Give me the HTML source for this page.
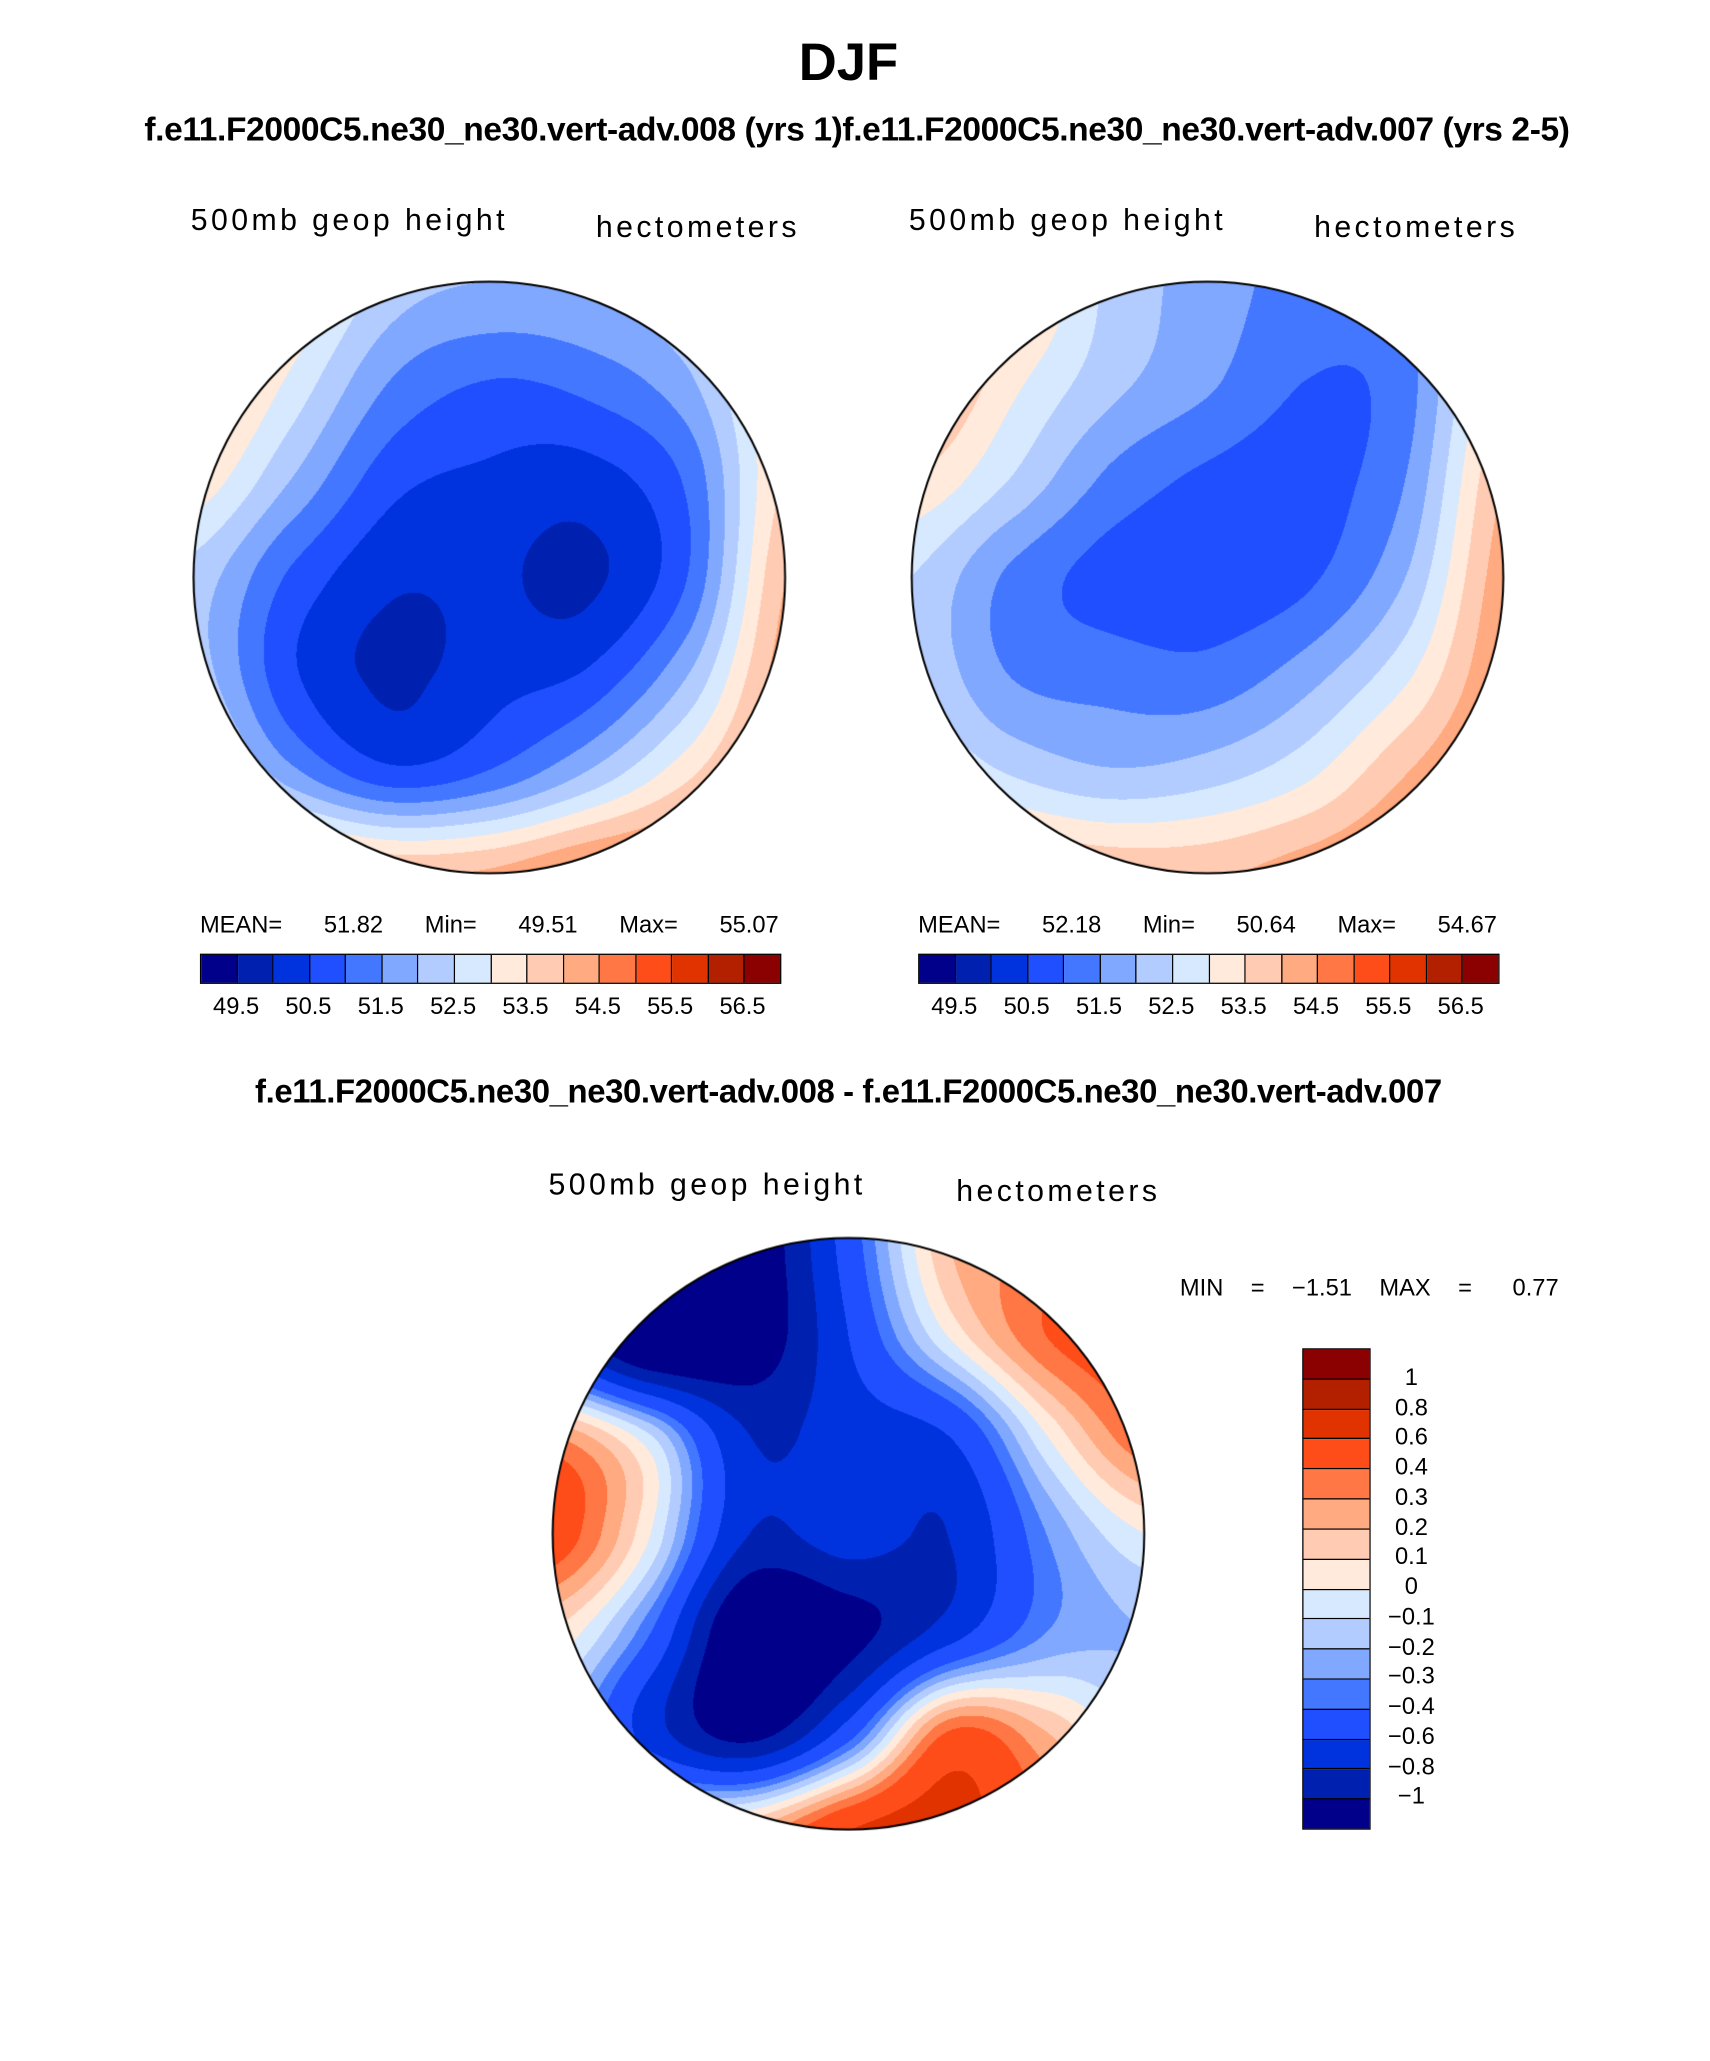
<!DOCTYPE html>
<html><head><meta charset="utf-8">
<style>
html,body{margin:0;padding:0;background:#fff;}
body{width:1710px;height:2061px;overflow:hidden;position:relative;font-family:"Liberation Sans",sans-serif;}
#wrap{position:absolute;left:0;top:0;width:1300px;height:1567px;transform:scale(1.315385);transform-origin:0 0;}
.t{position:absolute;white-space:nowrap;color:#000;}
.lbl{font-size:23px;letter-spacing:2.6px;font-weight:normal;}
.stat{font-size:18px;}
canvas{position:absolute;}
.hbar{position:absolute;display:flex;border:1.5px solid #000;height:21px;}
.hbar div{flex:1;border-right:1px solid #000;}
.hbar div:last-child{border-right:none;}
.vbar{position:absolute;display:flex;flex-direction:column;border:1.5px solid #000;width:50px;}
.vbar div{flex:1;border-bottom:1px solid #000;}
.vbar div:last-child{border-bottom:none;}
</style></head><body>
<div id="wrap">
<div class="t" style="left:0;width:1290px;text-align:center;top:26px;font-size:40px;font-weight:bold;">DJF</div>
<div class="t" style="left:0;width:1303px;text-align:center;top:85px;font-size:25.5px;font-weight:bold;letter-spacing:-0.3px;">f.e11.F2000C5.ne30_ne30.vert-adv.008 (yrs 1)f.e11.F2000C5.ne30_ne30.vert-adv.007 (yrs 2-5)</div>

<div class="t lbl" style="left:145px;top:154px;">500mb geop height</div>
<div class="t lbl" style="left:453px;top:159px;">hectometers</div>
<div class="t lbl" style="left:691px;top:154px;">500mb geop height</div>
<div class="t lbl" style="left:999px;top:159px;">hectometers</div>

<canvas id="m1" style="left:146px;top:213px;width:452px;height:452px;" width="595" height="595"></canvas>
<canvas id="m2" style="left:692px;top:213px;width:452px;height:452px;" width="595" height="595"></canvas>

<div class="t stat" style="left:152px;top:693px;width:440px;display:flex;justify-content:space-between;"><span>MEAN=</span><span>51.82</span><span>Min=</span><span>49.51</span><span>Max=</span><span>55.07</span></div>
<div class="t stat" style="left:698px;top:693px;width:440px;display:flex;justify-content:space-between;"><span>MEAN=</span><span>52.18</span><span>Min=</span><span>50.64</span><span>Max=</span><span>54.67</span></div>
<div class="hbar" id="cb1" style="left:152px;top:725px;width:440px;"></div>
<div class="hbar" id="cb2" style="left:698px;top:725px;width:440px;"></div>

<div class="t" style="left:0;width:1290px;text-align:center;top:816px;font-size:25px;font-weight:bold;letter-spacing:-0.3px;">f.e11.F2000C5.ne30_ne30.vert-adv.008 - f.e11.F2000C5.ne30_ne30.vert-adv.007</div>
<div class="t lbl" style="left:417px;top:887px;">500mb geop height</div>
<div class="t lbl" style="left:727px;top:892px;">hectometers</div>
<canvas id="m3" style="left:419px;top:940px;width:452px;height:452px;" width="595" height="595"></canvas>
<div class="t stat" style="left:897px;top:969px;width:288px;display:flex;justify-content:space-between;"><span>MIN</span><span>=</span><span>&minus;1.51</span><span>MAX</span><span>=</span><span>&nbsp;&nbsp;0.77</span></div>
<div class="vbar" id="cb3" style="left:990px;top:1025px;height:364px;"></div>
</div>
<script>
const levelColors=['#00008B','#0020B0','#0033DD','#1F4FFF','#4477FF','#80A8FF','#B3CCFF','#D6E9FF','#FFEADB','#FFCCB3','#FFAA80','#FF7744','#FF4D1A','#E03300','#B32000','#8B0000'];
const absLevels=[49.5,50,50.5,51,51.5,52,52.5,53,53.5,54,54.5,55,55.5,56,56.5];
const absTickLabels=['49.5','50.5','51.5','52.5','53.5','54.5','55.5','56.5'];
const diffLevels=[-1,-0.8,-0.6,-0.4,-0.3,-0.2,-0.1,0,0.1,0.2,0.3,0.4,0.6,0.8,1];
const diffTickLabels=['\u22121','\u22120.8','\u22120.6','\u22120.4','\u22120.3','\u22120.2','\u22120.1','0','0.1','0.2','0.3','0.4','0.6','0.8','1'];
const leftField=[
[54.6,53.6,52.3,52.0,52.1,52.6,54.0],
[54.2,52.9,51.5,51.0,51.2,51.9,53.6],
[53.4,52.0,50.7,50.4,50.3,51.1,53.6],
[52.3,50.9,50.1,50.1,49.9,51.0,54.0],
[52.3,50.6,49.9,50.3,50.6,52.0,54.3],
[53.3,51.7,50.7,51.1,52.1,53.4,54.7],
[55.0,54.5,54.0,54.1,54.7,55.0,55.5]];
const rightField=[
[55.0,54.0,52.4,51.8,51.3,51.6,53.0],
[54.5,53.2,52.2,51.6,51.0,51.3,53.5],
[53.5,52.5,51.4,50.9,50.8,51.5,54.0],
[52.5,51.4,50.8,50.7,50.9,52.0,54.3],
[52.5,51.5,51.3,51.2,51.8,52.9,54.5],
[53.2,52.5,52.1,52.3,52.9,54.0,54.8],
[54.5,54.2,53.9,53.9,54.3,54.7,55.0]];
const diffField=[
[-1.0,-1.3,-1.2,-0.5,0.2,0.3,0.4],
[-0.8,-1.4,-1.2,-0.6,0.0,0.4,0.5],
[0.3,-0.1,-0.8,-0.7,-0.6,0.0,0.4],
[0.5,0.0,-0.8,-0.7,-0.8,-0.3,0.0],
[0.1,-0.4,-1.3,-1.1,-0.7,-0.3,-0.2],
[-0.1,-0.7,-1.1,-0.5,0.4,0.2,-0.1],
[0.2,0.1,0.2,0.6,0.7,0.4,0.1]];

function cr(p0,p1,p2,p3,t){return 0.5*((2*p1)+(-p0+p2)*t+(2*p0-5*p1+4*p2-p3)*t*t+(-p0+3*p1-3*p2+p3)*t*t*t);}
function sample(g,u,v){
  const n=g.length-1;const x=u*n,y=v*n;
  let i=Math.min(Math.floor(x),n-1),j=Math.min(Math.floor(y),n-1);
  const tx=x-i,ty=y-j;const G=(a,b)=>g[Math.max(0,Math.min(n,b))][Math.max(0,Math.min(n,a))];
  const r=[];for(let k=-1;k<3;k++){r.push(cr(G(i-1,j+k),G(i,j+k),G(i+1,j+k),G(i+2,j+k),tx));}
  return cr(r[0],r[1],r[2],r[3],ty);
}
function hex(h){return [parseInt(h.slice(1,3),16),parseInt(h.slice(3,5),16),parseInt(h.slice(5,7),16)];}
const rgb=levelColors.map(hex);
function drawMap(id,field,levels){
  const c=document.getElementById(id);const ctx=c.getContext('2d');const W=c.width;
  const img=ctx.createImageData(W,W);const R=W/2-1.5;
  for(let y=0;y<W;y++)for(let x=0;x<W;x++){
    const dx=x+0.5-W/2,dy=y+0.5-W/2;if(dx*dx+dy*dy>R*R)continue;
    const val=sample(field,x/(W-1),y/(W-1));
    let k=0;while(k<levels.length&&val>=levels[k])k++;
    const col=rgb[k];const o=(y*W+x)*4;
    img.data[o]=col[0];img.data[o+1]=col[1];img.data[o+2]=col[2];img.data[o+3]=255;
  }
  ctx.putImageData(img,0,0);
  ctx.beginPath();ctx.arc(W/2,W/2,R,0,Math.PI*2);ctx.lineWidth=2;ctx.strokeStyle='#000';ctx.stroke();
}
drawMap('m1',leftField,absLevels);
drawMap('m2',rightField,absLevels);
drawMap('m3',diffField,diffLevels);

function hbar(id,left){
  const bar=document.getElementById(id);
  levelColors.forEach((col,i)=>{const d=document.createElement('div');
    
    
    d.style.background=col;bar.appendChild(d);});
  const wrap=document.getElementById('wrap');
  absTickLabels.forEach((t,i)=>{const s=document.createElement('div');
    
    
    s.className='t stat';s.textContent=t;
    const bx=left+(2*i+1)*440/16;
    s.style.left=(bx-40)+'px';s.style.width='80px';s.style.textAlign='center';s.style.top='755px';
    wrap.appendChild(s);});
}
hbar('cb1',152);hbar('cb2',698);

(function(){
  const bar=document.getElementById('cb3');
  levelColors.slice().reverse().forEach(col=>{const d=document.createElement('div');
    
    
    d.style.background=col;bar.appendChild(d);});
  const wrap=document.getElementById('wrap');const h=364/16;
  diffTickLabels.slice().reverse().forEach((t,i)=>{const s=document.createElement('div');
    
    
    s.className='t stat';s.textContent=t;
    s.style.left='1048px';s.style.width='50px';s.style.textAlign='center';
    s.style.top=(1025+(i+1)*h-11)+'px';
    wrap.appendChild(s);});
})();
</script>
</body></html>
